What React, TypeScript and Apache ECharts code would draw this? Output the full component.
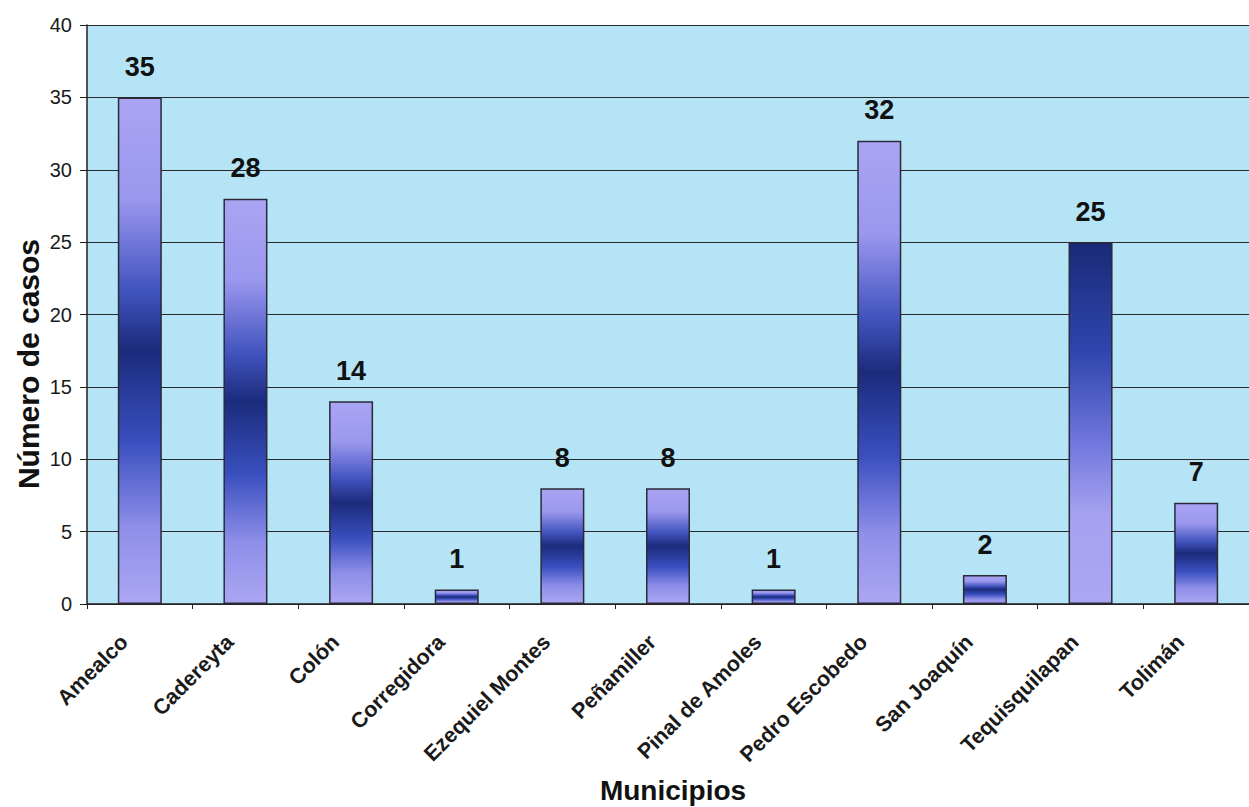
import React, { useEffect, useRef } from "react";
import * as echarts from "echarts";

const categories = [
  "Amealco",
  "Cadereyta",
  "Colón",
  "Corregidora",
  "Ezequiel Montes",
  "Peñamiller",
  "Pinal de Amoles",
  "Pedro Escobedo",
  "San Joaquín",
  "Tequisquilapan",
  "Tolimán",
];
const casos = [35, 28, 14, 1, 8, 8, 1, 32, 2, 25, 7];
const yTicks = { min: 0, max: 40, interval: 5 };

const FONT = '"Liberation Sans", Arial, sans-serif';

const centerDark = new echarts.graphic.LinearGradient(0, 0, 0, 1, [
  { offset: 0, color: "#aaa4f3" },
  { offset: 0.2, color: "#9a97ee" },
  { offset: 0.38, color: "#4254bf" },
  { offset: 0.5, color: "#1b2b7c" },
  { offset: 0.68, color: "#3a4fbf" },
  { offset: 0.85, color: "#8e8fe9" },
  { offset: 1, color: "#aca6f3" },
]);
const topDark = new echarts.graphic.LinearGradient(0, 0, 0, 1, [
  { offset: 0, color: "#1a2a78" },
  { offset: 0.3, color: "#2f45ad" },
  { offset: 0.55, color: "#6f76dc" },
  { offset: 0.75, color: "#a5a1f0" },
  { offset: 1, color: "#aca6f3" },
]);

export default function App() {
  const ref = useRef<HTMLDivElement>(null);
  useEffect(() => {
    if (!ref.current) return;
    const chart = echarts.init(ref.current, undefined, { renderer: "svg" });
    chart.setOption({
      animation: false,
      backgroundColor: "#ffffff",
      textStyle: { fontFamily: FONT },
      grid: { left: 87, right: 0, top: 25, bottom: 203, show: true, backgroundColor: "#b5e4f6", borderWidth: 0 },
      xAxis: {
        type: "category",
        data: categories,
        boundaryGap: true,
        axisLine: { lineStyle: { color: "#222", width: 1.5 } },
        axisTick: { show: true, length: 5, lineStyle: { color: "#222" } },
        axisLabel: {
          interval: 0,
          rotate: 45,
          margin: 19,
          padding: [0, 22, 0, 0],
          fontSize: 21.5,
          fontWeight: "bold",
          color: "#1a1a1a",
          fontFamily: FONT,
        },
      },
      yAxis: {
        type: "value",
        min: yTicks.min,
        max: yTicks.max,
        interval: yTicks.interval,
        axisLine: { show: true, lineStyle: { color: "#222", width: 1.5 } },
        axisTick: { show: true, length: 7, lineStyle: { color: "#222" } },
        axisLabel: { fontSize: 20, color: "#1a1a1a", margin: 15, fontFamily: FONT },
        splitLine: { lineStyle: { color: "#2a2a2a", width: 1.2 } },
      },
      series: [
        {
          type: "bar",
          barWidth: 44,
          data: casos.map((v, i) => ({
            value: v,
            itemStyle: {
              color: categories[i] === "Tequisquilapan" ? topDark : centerDark,
              borderColor: "#2a2a3a",
              borderWidth: 1.5,
            },
          })),
          label: {
            show: true,
            position: "top",
            distance: 17,
            fontSize: 27,
            fontWeight: "bold",
            color: "#111",
            fontFamily: FONT,
          },
        },
      ],
      graphic: [
        {
          type: "text",
          x: 28,
          y: 364,
          rotation: Math.PI / 2,
          style: {
            text: "Número de casos",
            fontSize: 30,
            fontWeight: "bold",
            fill: "#111",
            fontFamily: FONT,
            align: "center",
            verticalAlign: "middle",
          },
        },
        {
          type: "text",
          x: 673,
          y: 790,
          style: {
            text: "Municipios",
            fontSize: 28,
            fontWeight: "bold",
            fill: "#111",
            fontFamily: FONT,
            align: "center",
            verticalAlign: "middle",
          },
        },
      ],
    });
    return () => chart.dispose();
  }, []);
  return (
    <div
      ref={ref}
      style={{ position: "fixed", left: 0, top: 0, width: 1249, height: 807, background: "#fff" }}
    />
  );
}
